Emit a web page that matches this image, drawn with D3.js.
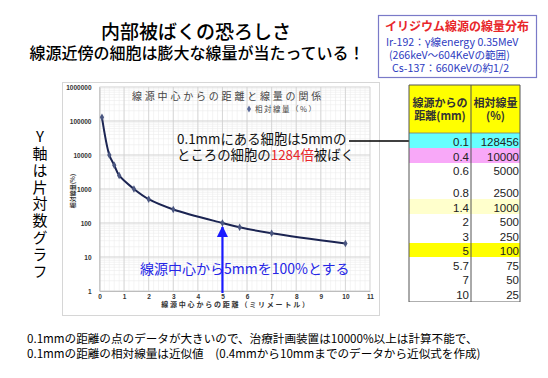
<!DOCTYPE html>
<html>
<head>
<meta charset="utf-8">
<script src="https://cdn.jsdelivr.net/npm/d3@7"></script>
<style>
  body { margin: 0; background: #fff; }
  text { font-family: "Noto Sans CJK JP", "Noto Sans", sans-serif; }
  .num { font-family: "Liberation Sans", Arial, sans-serif; }
  .vert { writing-mode: vertical-rl; text-orientation: upright; }
</style>
</head>
<body>
<div id="chart"></div>
<script>
// data
var distances = [0.1, 0.4, 0.6, 0.8, 1.4, 2, 3, 5, 5.7, 7, 10];
var doses = [128456, 10000, 5000, 2500, 1000, 500, 250, 100, 75, 50, 25];
var xTicks = [0, 1, 2, 3, 4, 5, 6, 7, 8, 9, 10, 11];
var yTicks = [1, 10, 100, 1000, 10000, 100000, 1000000];

var W = 548, H = 378;
var svg = d3.select("#chart").append("svg")
    .attr("width", W).attr("height", H);
svg.append("rect").attr("width", W).attr("height", H).attr("fill", "#fff");

svg.append("defs").html(
  '<marker id="ahBlack" viewBox="0 0 10 10" refX="9" refY="5" markerWidth="7" markerHeight="7" orient="auto"><path d="M0,0L10,5L0,10z" fill="#000"/></marker>' +
  '<marker id="ahBlue" viewBox="0 0 10 10" refX="9" refY="5" markerWidth="5" markerHeight="5" orient="auto"><path d="M0,0L10,5L0,10z" fill="#1a1aff"/></marker>');

// ---- headings
svg.append("text").attr("x", 196).attr("y", 39).attr("text-anchor", "middle")
    .attr("font-size", 19).attr("font-weight", 500).text("内部被ばくの恐ろしさ");
svg.append("text").attr("x", 197).attr("y", 59).attr("text-anchor", "middle")
    .attr("font-size", 16).attr("font-weight", 500).text("線源近傍の細胞は膨大な線量が当たっている！");

// ---- info box top right
svg.append("rect").attr("x", 378.5).attr("y", 15.5).attr("width", 158).attr("height", 62)
    .attr("fill", "#fff").attr("stroke", "#7a7ac8").attr("stroke-width", 1.2);
svg.append("text").attr("x", 457).attr("y", 31).attr("text-anchor", "middle")
    .attr("font-size", 12).attr("font-weight", "bold").attr("fill", "#e8262a")
    .text("イリジウム線源の線量分布");
var infoLines = ["Ir-192：γ線energy 0.35MeV", "(266keV～604KeVの範囲)", "Cs-137：660KeVの約1/2"];
var infoX = [386, 389, 392];
var info = svg.append("text").attr("font-size", 10.6).attr("fill", "#2d3bbf");
infoLines.forEach(function(t, i) {
  info.append("tspan").attr("x", infoX[i]).attr("y", 46 + i * 13).text(t);
});

// ---- left vertical note
svg.append("text").attr("class", "vert").attr("x", 40).attr("y", 129)
    .attr("font-size", 15).attr("letter-spacing", 1.8).text("Y軸は片対数グラフ");

// ---- chart panel
svg.append("rect").attr("x", 62.5).attr("y", 82.5).attr("width", 317).attr("height", 233)
    .attr("fill", "#fff").attr("stroke", "#d6d6d6");

var x = d3.scaleLinear().domain([0, 11]).range([99.5, 370]);
var y = d3.scaleLog().domain([1, 1000000]).range([291, 87]);

var grid = svg.append("g");
// minor grid
d3.range(0, 11.001, 0.2).forEach(function(v) {
  grid.append("line").attr("x1", x(v)).attr("x2", x(v)).attr("y1", y(1e6)).attr("y2", y(1))
      .attr("stroke", "#ececec").attr("stroke-width", 0.6);
});
y.ticks().forEach(function(v) {
  grid.append("line").attr("x1", x(0)).attr("x2", x(11)).attr("y1", y(v)).attr("y2", y(v))
      .attr("stroke", "#ececec").attr("stroke-width", 0.6);
});
// major grid
xTicks.forEach(function(v) {
  grid.append("line").attr("x1", x(v)).attr("x2", x(v)).attr("y1", y(1e6)).attr("y2", y(1))
      .attr("stroke", "#cfcfcf").attr("stroke-width", 0.8);
});
yTicks.forEach(function(v) {
  grid.append("line").attr("x1", x(0)).attr("x2", x(11)).attr("y1", y(v)).attr("y2", y(v))
      .attr("stroke", "#cfcfcf").attr("stroke-width", 0.8);
});

// axes
var yAxis = svg.append("g").attr("transform", "translate(" + x(0) + ",0)")
    .call(d3.axisLeft(y).tickValues(yTicks).tickSize(0).tickPadding(8).tickFormat(d3.format("d")));
var xAxis = svg.append("g").attr("transform", "translate(0," + y(1) + ")")
    .call(d3.axisBottom(x).tickValues(xTicks).tickSize(0).tickPadding(3));
[xAxis, yAxis].forEach(function(a) {
  a.select(".domain").attr("stroke", "#bdbdbd");
  a.selectAll("text").attr("class", "num").attr("font-size", 6.5)
      .attr("font-weight", "bold").attr("fill", "#333");
});

svg.append("text").attr("x", 228).attr("y", 100).attr("text-anchor", "middle")
    .attr("font-size", 10).attr("letter-spacing", 2.8).attr("fill", "#444")
    .text("線源中心からの距離と線量の関係");
svg.append("path").attr("d", d3.symbol(d3.symbolDiamond, 14)())
    .attr("transform", "translate(249,109)").attr("fill", "#5b6b9a");
svg.append("text").attr("x", 255).attr("y", 112)
    .attr("font-size", 7.5).attr("letter-spacing", 1.5).attr("fill", "#444")
    .text("相対線量（%）");
svg.append("text").attr("x", 236).attr("y", 307).attr("text-anchor", "middle")
    .attr("font-size", 7).attr("font-weight", "bold").attr("letter-spacing", 1.8).attr("fill", "#333")
    .text("線源中心からの距離（ミリメートル）");
svg.append("text").attr("transform", "translate(75,191) rotate(-90)").attr("text-anchor", "middle")
    .attr("font-size", 6).attr("font-weight", "bold").attr("fill", "#333")
    .text("相対線量(%)");

// curve + markers
var pts = distances.map(function(d, i) { return [d, doses[i]]; });
var line = d3.line()
    .x(function(d) { return x(d[0]); })
    .y(function(d) { return y(d[1]); })
    .curve(d3.curveCatmullRom.alpha(0.5));
svg.append("path").attr("d", line(pts)).attr("fill", "none")
    .attr("stroke", "#1b2452").attr("stroke-width", 2);
svg.selectAll(".pt").data(pts).enter().append("path")
    .attr("d", d3.symbol(d3.symbolDiamond, 16)())
    .attr("transform", function(d) { return "translate(" + x(d[0]) + "," + y(d[1]) + ")"; })
    .attr("fill", "#4a5680");

// annotations
var ann = svg.append("text").attr("font-size", 13.4).attr("fill", "#111");
ann.append("tspan").attr("x", 177).attr("y", 144).text("0.1mmにある細胞は5mmの");
ann.append("tspan").attr("x", 177).attr("y", 160).text("ところの細胞の");
ann.append("tspan").attr("fill", "#e8262a").text("1284倍");
ann.append("tspan").text("被ばく");

svg.append("line").attr("x1", 349).attr("x2", 421).attr("y1", 141).attr("y2", 141)
    .attr("stroke", "#000").attr("stroke-width", 1.5).attr("marker-end", "url(#ahBlack)");

svg.append("text").attr("x", 140).attr("y", 274).attr("font-size", 14).attr("fill", "#2626e6")
    .text("線源中心から5mmを100%とする");
svg.append("line").attr("x1", x(5)).attr("x2", x(5)).attr("y1", y(1) + 2).attr("y2", 227)
    .attr("stroke", "#1a1aff").attr("stroke-width", 2.2).attr("marker-end", "url(#ahBlue)");

// ---- table
var tx = [409, 471, 520];
var rowY = [133, 148, 163, 177, 199, 214, 228, 243, 257, 272, 286, 301];
var rowFill = ["#66ffff", "#f8a8f8", "#fff", "#fff", "#ffffcc", "#fff", "#fff", "#ffff00", "#fff", "#fff", "#fff"];
var tbl = svg.append("g");
tbl.append("rect").attr("x", tx[0]).attr("y", 85).attr("width", tx[2] - tx[0]).attr("height", 133 - 85)
    .attr("fill", "#ffff00");
distances.forEach(function(d, i) {
  tbl.append("rect").attr("x", tx[0]).attr("y", rowY[i]).attr("width", tx[2] - tx[0])
      .attr("height", rowY[i + 1] - rowY[i]).attr("fill", rowFill[i]);
  tbl.append("line").attr("x1", tx[0]).attr("x2", tx[2]).attr("y1", rowY[i + 1] + 0.5).attr("y2", rowY[i + 1] + 0.5)
      .attr("stroke", "#9a9a9a").attr("stroke-width", 0.8);
  tbl.append("text").attr("class", "num").attr("x", tx[1] - 2).attr("y", rowY[i + 1] - 2)
      .attr("text-anchor", "end").attr("font-size", 11.5).attr("fill", "#222").text(String(d));
  tbl.append("text").attr("class", "num").attr("x", tx[2] - 1).attr("y", rowY[i + 1] - 2)
      .attr("text-anchor", "end").attr("font-size", 11.5).attr("fill", "#222").text(String(doses[i]));
});
tbl.append("line").attr("x1", tx[0]).attr("x2", tx[2]).attr("y1", 133).attr("y2", 133)
    .attr("stroke", "#777").attr("stroke-width", 0.8);
tx.forEach(function(v) {
  tbl.append("line").attr("x1", v).attr("x2", v).attr("y1", 85).attr("y2", 302)
      .attr("stroke", "#555").attr("stroke-width", 1);
});
tbl.append("line").attr("x1", tx[0]).attr("x2", tx[2]).attr("y1", 85).attr("y2", 85)
    .attr("stroke", "#555").attr("stroke-width", 1);
var hdr = [["線源からの", "距離(mm)"], ["相対線量", "(%)"]];
hdr.forEach(function(h, c) {
  var t = tbl.append("text").attr("text-anchor", "middle").attr("font-size", 11)
      .attr("font-weight", "bold").attr("fill", "#333");
  h.forEach(function(s, r) {
    t.append("tspan").attr("x", (tx[c] + tx[c + 1]) / 2).attr("y", 107 + r * 13).text(s);
  });
});

// ---- notes
var notes = svg.append("text").attr("font-size", 11.6);
notes.append("tspan").attr("x", 27).attr("y", 343)
    .text("0.1mmの距離の点のデータが大きいので、治療計画装置は10000%以上は計算不能で、");
notes.append("tspan").attr("x", 27).attr("y", 358)
    .text("0.1mmの距離の相対線量は近似値　(0.4mmから10mmまでのデータから近似式を作成)");
</script>
</body>
</html>
